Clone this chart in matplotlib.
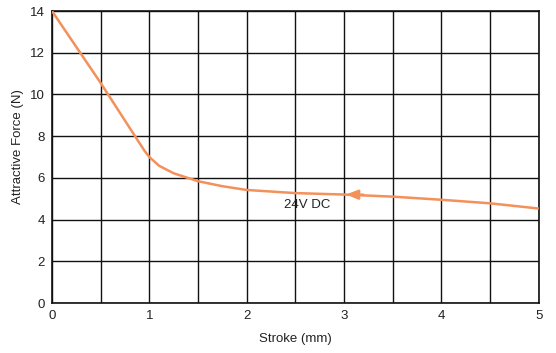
import numpy as np
import matplotlib.pyplot as plt

plt.rcParams['font.family'] = ['Liberation Sans', 'DejaVu Sans']

stroke = [0, 0.5, 0.95, 1.0, 1.1, 1.25, 1.5, 1.75, 2.0, 2.5, 3.0, 3.5, 4.0, 4.5, 5.0]
force = [14.0, 10.55, 7.3, 7.0, 6.58, 6.22, 5.84, 5.6, 5.42, 5.27, 5.2, 5.1, 4.95, 4.78, 4.53]
x_ticks = [0, 1, 2, 3, 4, 5]
y_ticks = [0, 2, 4, 6, 8, 10, 12, 14]
orange = '#F4905A'

fig = plt.figure(figsize=(5.56, 3.53), dpi=100)
ax = fig.add_axes([0.0935, 0.1416, 0.8755, 0.8272])

ax.plot(stroke, force, color=orange, lw=1.8, solid_capstyle='butt',
        solid_joinstyle='round', zorder=3)
ax.annotate('', xy=(3.02, 5.205), xytext=(3.2, 5.19),
            arrowprops=dict(arrowstyle='-|>,head_length=0.7,head_width=0.28',
                            color=orange, lw=1.8, shrinkA=0, shrinkB=0), zorder=4)
ax.text(2.62, 4.68, '24V DC', ha='center', va='center', fontsize=9.5, color='#222222')

ax.set_xlim(0, 5)
ax.set_ylim(0, 14)
ax.set_xticks(x_ticks)
ax.set_xticks(np.arange(0.5, 5, 1.0), minor=True)
ax.set_yticks(y_ticks)
ax.grid(True, which='both', color='#111111', lw=1.0)
ax.tick_params(which='both', length=0, labelsize=9.5, pad=5, colors='#222222')
for s in ax.spines.values():
    s.set_color('#111111')
    s.set_linewidth(1.2)

ax.set_xlabel('Stroke (mm)', fontsize=9.5, color='#222222', labelpad=8)
ax.set_ylabel('Attractive Force (N)', fontsize=9.5, color='#222222')
ax.yaxis.set_label_coords(-0.058, 0.535)

fig.savefig('out.png', dpi=100)
